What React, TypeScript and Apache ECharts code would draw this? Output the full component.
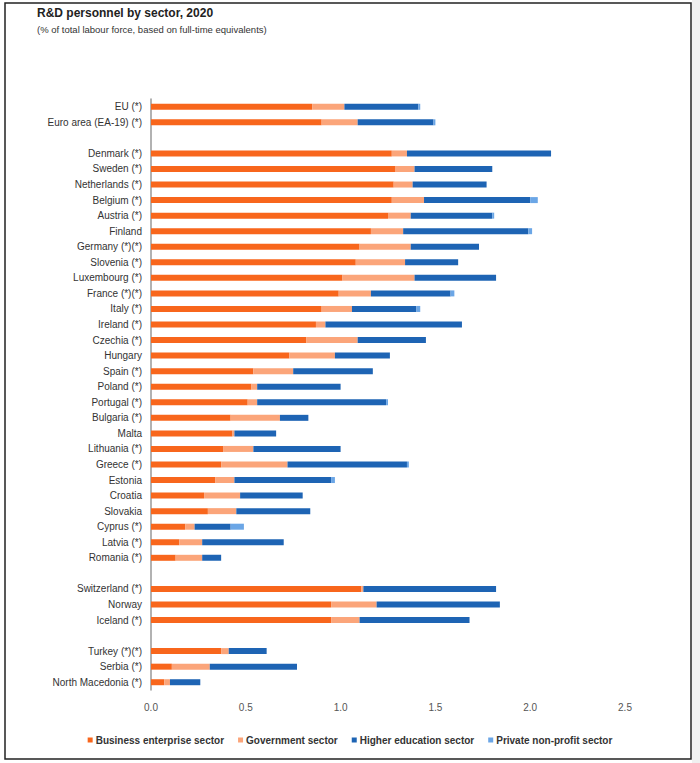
import React, { useEffect, useRef } from "react";
import * as echarts from "echarts";

const categories = [
  "EU (*)", "Euro area (EA-19) (*)", " ",
  "Denmark (*)", "Sweden (*)", "Netherlands (*)", "Belgium (*)", "Austria (*)", "Finland",
  "Germany (*)(*)", "Slovenia (*)", "Luxembourg (*)", "France (*)(*)", "Italy (*)", "Ireland (*)",
  "Czechia (*)", "Hungary", "Spain (*)", "Poland (*)", "Portugal (*)", "Bulgaria (*)", "Malta",
  "Lithuania (*)", "Greece (*)", "Estonia", "Croatia", "Slovakia", "Cyprus (*)", "Latvia (*)",
  "Romania (*)", "  ",
  "Switzerland (*)", "Norway", "Iceland (*)", "   ",
  "Turkey (*)(*)", "Serbia (*)", "North Macedonia (*)",
];

const business = [
  0.85, 0.9, null,
  1.27, 1.29, 1.28, 1.27, 1.25, 1.16,
  1.1, 1.08, 1.01, 0.99, 0.9, 0.87,
  0.82, 0.73, 0.54, 0.53, 0.51, 0.42, 0.43,
  0.38, 0.37, 0.34, 0.28, 0.3, 0.18, 0.15,
  0.13, null,
  1.11, 0.95, 0.95, null,
  0.37, 0.11, 0.07,
];

const government = [
  0.17, 0.19, null,
  0.08, 0.1, 0.1, 0.17, 0.12, 0.17,
  0.27, 0.26, 0.38, 0.17, 0.16, 0.05,
  0.27, 0.24, 0.21, 0.03, 0.05, 0.26, 0.01,
  0.16, 0.35, 0.1, 0.19, 0.15, 0.05, 0.12,
  0.14, null,
  0.01, 0.24, 0.15, null,
  0.04, 0.2, 0.03,
];

const higherEducation = [
  0.39, 0.4, null,
  0.76, 0.41, 0.39, 0.56, 0.43, 0.66,
  0.36, 0.28, 0.43, 0.42, 0.34, 0.72,
  0.36, 0.29, 0.42, 0.44, 0.68, 0.15, 0.22,
  0.46, 0.63, 0.51, 0.33, 0.39, 0.19, 0.43,
  0.1, null,
  0.7, 0.65, 0.58, null,
  0.2, 0.46, 0.16,
];

const privateNonProfit = [
  0.01, 0.01, null,
  0, 0, 0, 0.04, 0.01, 0.02,
  0, 0, 0, 0.02, 0.02, 0,
  0, 0, 0, 0, 0.01, 0, 0,
  0, 0.01, 0.02, 0, 0, 0.07, 0,
  0, null,
  0, 0, 0, null,
  0, 0, 0,
];

const xTicks = { min: 0, max: 2.5, interval: 0.5 };

const seriesNames = [
  "Business enterprise sector",
  "Government sector",
  "Higher education sector",
  "Private non-profit sector",
];
const seriesColors = ["#F8661C", "#FBA57A", "#1E64B4", "#6BA6E6"];

export default function App() {
  const ref = useRef<HTMLDivElement>(null);

  useEffect(() => {
    if (!ref.current) return;
    const chart = echarts.init(ref.current, null, { renderer: "svg" });
    const seriesData = [business, government, higherEducation, privateNonProfit];
    chart.setOption({
      animation: false,
      backgroundColor: "#ffffff",
      textStyle: { fontFamily: "Liberation Sans, Arial, sans-serif" },
      title: {
        text: "R&D personnel by sector, 2020",
        subtext: "(% of total labour force, based on full-time equivalents)",
        left: 32,
        top: 5,
        itemGap: 5,
        padding: [2, 5],
        textStyle: { fontSize: 12, fontWeight: "bold", color: "#222" },
        subtextStyle: { fontSize: 9.5, color: "#333" },
      },
      graphic: [
        {
          type: "rect",
          shape: { x: 692, y: 0, width: 8, height: 763 },
          style: { fill: "#f0f0f0" },
          silent: true,
        },
        {
          type: "rect",
          shape: { x: 5, y: 3, width: 686, height: 756 },
          style: { fill: "none", stroke: "#222", lineWidth: 1.5 },
          silent: true,
        },
      ],
      legend: {
        data: seriesNames,
        top: 730,
        left: "center",
        icon: "rect",
        itemWidth: 5,
        itemHeight: 5,
        itemGap: 14,
        textStyle: { fontSize: 10, fontWeight: "bold", color: "#333", padding: [0, 0, 0, -2] },
      },
      grid: { left: 151, right: 75, top: 99, bottom: 73, containLabel: false },
      xAxis: {
        type: "value",
        min: xTicks.min,
        max: xTicks.max,
        interval: xTicks.interval,
        axisLine: { show: false },
        axisTick: { show: false },
        splitLine: { show: false },
        axisLabel: {
          fontSize: 10,
          color: "#555",
          margin: 12,
          formatter: (v: number) => v.toFixed(1),
        },
      },
      yAxis: {
        type: "category",
        data: categories,
        inverse: true,
        axisLine: { show: true, lineStyle: { color: "#999", width: 1.5 } },
        axisTick: { show: false },
        axisLabel: { fontSize: 10, color: "#333", margin: 9, interval: 0 },
      },
      series: seriesNames.map((name, i) => ({
        name,
        type: "bar",
        stack: "total",
        barWidth: 6,
        itemStyle: { color: seriesColors[i] },
        data: seriesData[i],
      })),
    });
    return () => chart.dispose();
  }, []);

  return (
    <div
      ref={ref}
      style={{ position: "absolute", left: 0, top: 0, width: 700, height: 763 }}
    />
  );
}
